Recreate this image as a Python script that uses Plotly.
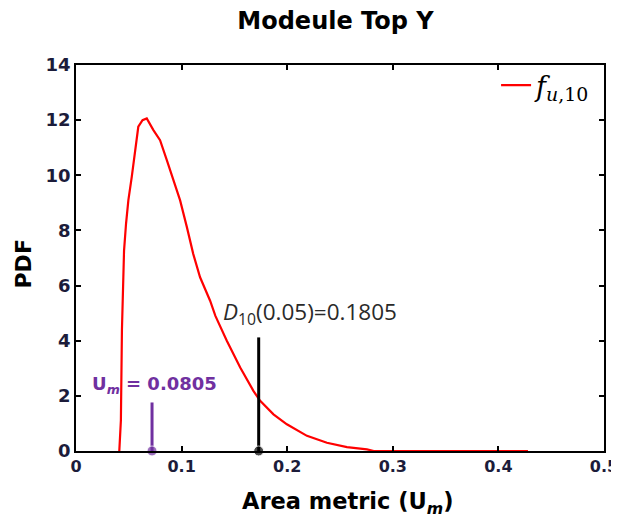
import plotly.graph_objects as go

# ---- data ----
curve_x = [0.041, 0.0425, 0.0435, 0.0442, 0.0449, 0.0455, 0.0474, 0.0496, 0.0528,
           0.056, 0.059, 0.063, 0.067, 0.0733, 0.0796, 0.086, 0.0922, 0.0986, 0.105,
           0.111, 0.1175, 0.127, 0.132, 0.1428, 0.1555, 0.168, 0.1744, 0.187, 0.1997,
           0.2187, 0.2376, 0.2566, 0.2755, 0.282, 0.428]
curve_y = [0.0, 1.1, 4.4, 5.45, 6.67, 7.27, 8.25, 9.1, 9.94,
           10.9, 11.76, 12.0, 12.06, 11.64, 11.27, 10.55, 9.82, 9.09, 8.12,
           7.15, 6.3, 5.45, 4.9, 4.0, 3.03, 2.18, 1.82, 1.33, 0.97,
           0.55, 0.30, 0.14, 0.06, 0.0, 0.0]

um_x = [0.072, 0.072]
um_y = [0.0, 1.76]
d10_x = [0.173, 0.173]
d10_y = [0.0, 4.12]

x_ticks = [0, 0.1, 0.2, 0.3, 0.4, 0.5]
x_ticklabels = ["0", "0.1", "0.2", "0.3", "0.4", "0.5"]
y_ticks = [0, 2, 4, 6, 8, 10, 12, 14]
y_ticklabels = ["0", "2", "4", "6", "8", "10", "12", "14"]

title_text = "Modeule Top Y"
x_title = "Area metric (U<sub><i>m</i></sub>)"
y_title = "PDF"
legend_name = "<i>f</i><sub><i>u</i>,10</sub>"
um_label = "U<sub><i>m</i></sub> = 0.0805"
d10_label = "<i>D</i><sub>10</sub>(0.05)=0.1805"

PURPLE = "#7030A0"
TICK_COLOR = "#1c1c3a"
BOLD_FONT = "DejaVu Sans"

fig = go.Figure()

fig.add_trace(go.Scatter(
    x=curve_x, y=curve_y, mode="lines", name=legend_name,
    line=dict(color="#ff0000", width=2.2), showlegend=True,
))

fig.add_trace(go.Scatter(
    x=um_x, y=um_y, mode="lines+markers", showlegend=False,
    line=dict(color=PURPLE, width=3),
    marker=dict(color=PURPLE, size=[10, 0]), cliponaxis=False,
))
fig.add_trace(go.Scatter(
    x=d10_x, y=d10_y, mode="lines+markers", showlegend=False,
    line=dict(color="black", width=3),
    marker=dict(color="black", size=[10, 0]), cliponaxis=False,
))

fig.add_annotation(x=0.0744, y=2.4, xref="x", yref="y", text=um_label,
                   showarrow=False,
                   font=dict(family=BOLD_FONT, size=18, color=PURPLE, weight="bold"))
fig.add_annotation(x=0.2213, y=5.0, xref="x", yref="y", text=d10_label,
                   showarrow=False, font=dict(family="Open Sans", size=22.5, color="#2a2a2a"))

# axis titles as annotations (placed as in the reference)
fig.add_annotation(x=0.515, y=-0.1347, xref="paper", yref="paper", text=x_title,
                   showarrow=False, xanchor="center", yanchor="middle",
                   font=dict(family=BOLD_FONT, size=22.5, color="black", weight="bold"))
fig.add_annotation(x=-0.0994, y=0.4845, xref="paper", yref="paper", text=y_title,
                   showarrow=False, xanchor="center", yanchor="middle", textangle=-90,
                   font=dict(family=BOLD_FONT, size=22, color="black", weight="bold"))

fig.update_layout(
    width=611, height=515,
    margin=dict(l=68, r=15, t=57, b=72, autoexpand=False),
    paper_bgcolor="white", plot_bgcolor="white",
    title=dict(text=title_text, x=0.536, xanchor="center", y=0.975, yanchor="middle",
               font=dict(family=BOLD_FONT, size=24, color="black", weight="bold")),
    legend=dict(x=0.985, y=1.01, xanchor="right", yanchor="top", bgcolor="rgba(0,0,0,0)",
                font=dict(family="DejaVu Serif", size=27, color="black")),
    xaxis=dict(range=[0, 0.5], tickvals=x_ticks, ticktext=x_ticklabels,
               showline=True, mirror="ticks", linecolor="black", linewidth=1.5,
               ticks="inside", ticklen=5, tickwidth=1.5, tickcolor="black",
               showgrid=False, zeroline=False, automargin=False,
               ticklabeloverflow="allow",
               tickfont=dict(family=BOLD_FONT, size=16, color=TICK_COLOR, weight="bold")),
    yaxis=dict(range=[0, 14], tickvals=y_ticks, ticktext=y_ticklabels,
               showline=True, mirror="ticks", linecolor="black", linewidth=1.5,
               ticks="inside", ticklen=5, tickwidth=1.5, tickcolor="black",
               showgrid=False, zeroline=True, zerolinecolor="black", zerolinewidth=2.5,
               automargin=False, ticklabeloverflow="allow",
               tickfont=dict(family=BOLD_FONT, size=18, color=TICK_COLOR, weight="bold")),
)

fig.write_html("out.html")
